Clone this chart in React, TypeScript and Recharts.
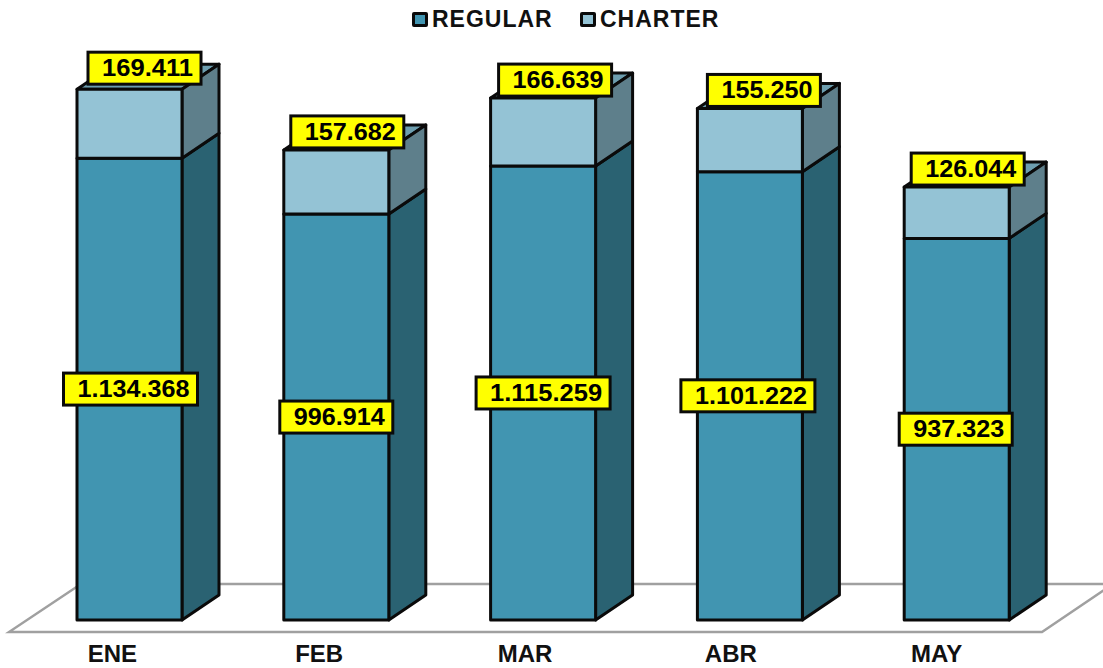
import {
  BarChart,
  Bar,
  XAxis,
  YAxis,
  Legend,
  LabelList,
  Customized,
} from "recharts";

const MONTHS = ["ENE", "FEB", "MAR", "ABR", "MAY"];
const REGULAR = [1134368, 996914, 1115259, 1101222, 937323];
const CHARTER = [169411, 157682, 166639, 155250, 126044];

// the boxes sit a bit off the bar, each one by hand
const REGULAR_LABEL_DX = [1, 0, 0, -2, -1];
const CHARTER_LABEL_DX = [15, 11, 12, 14, 11];
const CHARTER_LABEL_DY = [-21, -18, -18, -18, -18];
const TICK_DX = [-17, -17, -18, -19, -20];

const chartData = MONTHS.map((month, i) => ({
  month,
  regular: REGULAR[i],
  charter: CHARTER[i],
}));

const DEPTH_X = 37;
const DEPTH_Y = 25;
const INK = "#0a0a0a";

const fmt = (v: number) => v.toLocaleString("de-DE");

function Box3D(props: any) {
  const { x, y, width, height, front, side, top } = props;
  const r = x + width;
  const b = y + height;
  return (
    <g stroke={INK} strokeWidth={3} strokeLinejoin="round">
      {top && (
        <polygon
          points={`${x},${y} ${r},${y} ${r + DEPTH_X},${y - DEPTH_Y} ${x + DEPTH_X},${y - DEPTH_Y}`}
          fill={top}
        />
      )}
      <polygon
        points={`${r},${y} ${r + DEPTH_X},${y - DEPTH_Y} ${r + DEPTH_X},${b - DEPTH_Y} ${r},${b}`}
        fill={side}
      />
      <rect x={x} y={y} width={width} height={height} fill={front} />
    </g>
  );
}

function ValueTag(props: any) {
  const { x, y, width, height, value, index, dx, dy } = props;
  const text = fmt(value);
  const w = text.length > 7 ? 134 : 113;
  const cx = x + width / 2 + dx[index];
  const cy = dy ? y + dy[index] : y + height / 2;
  const textW = text.length > 7 ? 112 : 91;
  return (
    <g>
      <rect
        x={cx - w / 2}
        y={cy - 16}
        width={w}
        height={32}
        fill="#ffff00"
        stroke={INK}
        strokeWidth={3}
      />
      <text
        x={cx + 3}
        y={cy + 8}
        textAnchor="middle"
        textLength={textW}
        lengthAdjust="spacingAndGlyphs"
        fontFamily="Liberation Sans"
        fontWeight="bold"
        fontSize={23}
        fill="#000"
      >
        {text}
      </text>
    </g>
  );
}

function Floor() {
  return (
    <g>
      <polygon
        points="9,632 1042,632 1113,584 81,584"
        fill="#fff"
        stroke="#a0a0a0"
        strokeWidth={2.4}
      />
    </g>
  );
}

function MonthTick(props: any) {
  const { x, y, payload, index } = props;
  return (
    <text
      x={x + TICK_DX[index]}
      y={y + 10}
      textAnchor="middle"
      fontFamily="Liberation Sans"
      fontWeight="bold"
      fontSize={24}
      fill="#111"
    >
      {payload.value}
    </text>
  );
}

function LegendRow() {
  const items = [
    { name: "REGULAR", color: "#4195b1", w: 148 },
    { name: "CHARTER", color: "#94c3d5", w: 124 },
  ];
  return (
    <div style={{ display: "flex", paddingLeft: 412 }}>
      {items.map((it) => (
        <span key={it.name} style={{ display: "flex", alignItems: "center" }}>
          <span
            style={{
              width: 10,
              height: 9,
              background: it.color,
              border: `3px solid ${INK}`,
              borderRadius: 2,
              marginRight: 4,
            }}
          />
          <span
            style={{
              width: it.w,
              fontFamily: "Liberation Sans",
              fontWeight: "bold",
              fontSize: 23,
              letterSpacing: 1,
              color: "#111",
              lineHeight: "24px",
            }}
          >
            {it.name}
          </span>
        </span>
      ))}
    </div>
  );
}

export default function App() {
  return (
    <div style={{ position: "absolute", left: 0, top: 0, width: 1103, height: 668 }}>
      <BarChart
        width={1103}
        height={668}
        data={chartData}
        margin={{ top: 50, right: 43, bottom: 0, left: 26 }}
        barSize={105}
      >
        <Customized component={Floor} />
        <XAxis
          dataKey="month"
          axisLine={false}
          tickLine={false}
          height={48}
          tick={<MonthTick />}
          tickMargin={26}
          interval={0}
        />
        <YAxis hide domain={[0, 1400000]} />
        <Legend
          verticalAlign="middle"
          content={<LegendRow />}
          wrapperStyle={{ top: 7, left: 0, width: 1103 }}
        />
        <Bar
          dataKey="regular"
          name="REGULAR"
          stackId="a"
          isAnimationActive={false}
          shape={<Box3D front="#4195b1" side="#2a6272" />}
        >
          <LabelList
            dataKey="regular"
            content={<ValueTag dx={REGULAR_LABEL_DX} />}
          />
        </Bar>
        <Bar
          dataKey="charter"
          name="CHARTER"
          stackId="a"
          isAnimationActive={false}
          shape={<Box3D front="#94c3d5" side="#5e7f8b" top="#6d9eaf" />}
        >
          <LabelList
            dataKey="charter"
            content={<ValueTag dx={CHARTER_LABEL_DX} dy={CHARTER_LABEL_DY} />}
          />
        </Bar>
      </BarChart>
    </div>
  );
}
